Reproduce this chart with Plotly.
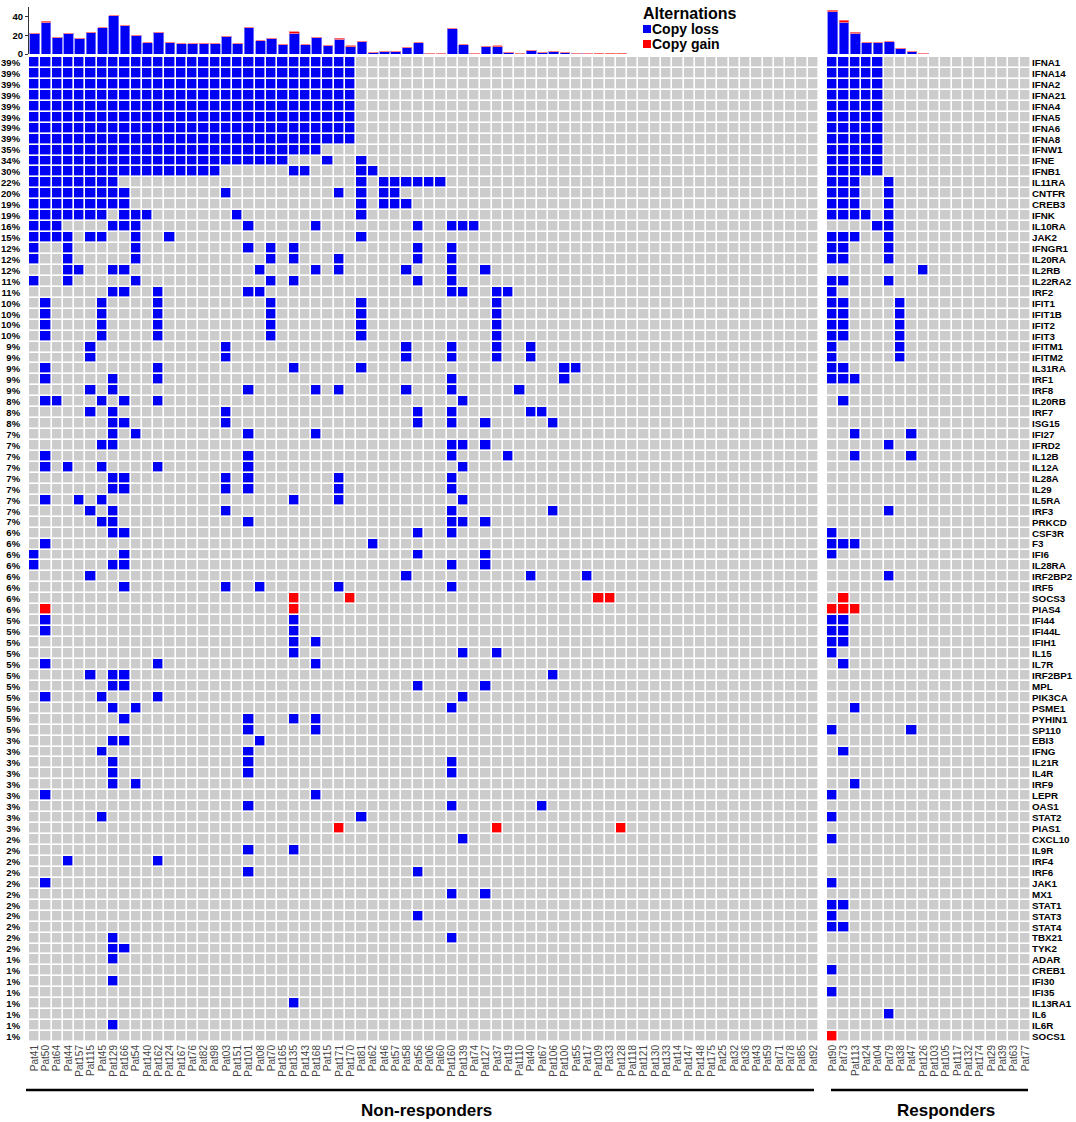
import plotly.graph_objects as go

genes = ["IFNA1", "IFNA14", "IFNA2", "IFNA21", "IFNA4", "IFNA5", "IFNA6", "IFNA8", "IFNW1", "IFNE",
         "IFNB1", "IL11RA", "CNTFR", "CREB3", "IFNK", "IL10RA", "JAK2", "IFNGR1", "IL20RA", "IL2RB",
         "IL22RA2", "IRF2", "IFIT1", "IFIT1B", "IFIT2", "IFIT3", "IFITM1", "IFITM2", "IL31RA", "IRF1",
         "IRF8", "IL20RB", "IRF7", "ISG15", "IFI27", "IFRD2", "IL12B", "IL12A", "IL28A", "IL29",
         "IL5RA", "IRF3", "PRKCD", "CSF3R", "F3", "IFI6", "IL28RA", "IRF2BP2", "IRF5", "SOCS3",
         "PIAS4", "IFI44", "IFI44L", "IFIH1", "IL15", "IL7R", "IRF2BP1", "MPL", "PIK3CA", "PSME1",
         "PYHIN1", "SP110", "EBI3", "IFNG", "IL21R", "IL4R", "IRF9", "LEPR", "OAS1", "STAT2",
         "PIAS1", "CXCL10", "IL9R", "IRF4", "IRF6", "JAK1", "MX1", "STAT1", "STAT3", "STAT4",
         "TBX21", "TYK2", "ADAR", "CREB1", "IFI30", "IFI35", "IL13RA1", "IL6", "IL6R", "SOCS1"]

pct_labels = ["39%"] * 8 + ["35%", "34%", "30%", "22%", "20%", "19%", "19%", "16%", "15%",
              "12%", "12%", "12%", "11%", "11%"] + ["10%"] * 4 + ["9%"] * 5 + ["8%"] * 3 + \
             ["7%"] * 9 + ["6%"] * 8 + ["5%"] * 11 + ["3%"] * 9 + ["2%"] * 11 + ["1%"] * 8

nr_patients = ["Pat41", "Pat50", "Pat64", "Pat44", "Pat157", "Pat115", "Pat45", "Pat129", "Pat166", "Pat54",
               "Pat140", "Pat162", "Pat124", "Pat167", "Pat76", "Pat82", "Pat98", "Pat03", "Pat151", "Pat101",
               "Pat08", "Pat70", "Pat165", "Pat135", "Pat143", "Pat168", "Pat15", "Pat171", "Pat170", "Pat81",
               "Pat62", "Pat46", "Pat57", "Pat58", "Pat56", "Pat06", "Pat60", "Pat160", "Pat139", "Pat74",
               "Pat127", "Pat37", "Pat19", "Pat110", "Pat40", "Pat67", "Pat106", "Pat100", "Pat55", "Pat17",
               "Pat109", "Pat33", "Pat128", "Pat118", "Pat121", "Pat130", "Pat133", "Pat14", "Pat147", "Pat148",
               "Pat175", "Pat25", "Pat32", "Pat36", "Pat43", "Pat59", "Pat71", "Pat78", "Pat85", "Pat92"]

r_patients = ["Pat90", "Pat73", "Pat113", "Pat24", "Pat04", "Pat79", "Pat38", "Pat47", "Pat126",
              "Pat103", "Pat105", "Pat117", "Pat132", "Pat174", "Pat29", "Pat39", "Pat63", "Pat77"]

# Alteration grid: L = copy loss, G = copy gain, . = none
# (one string per gene, groups of 10 patients separated by spaces; trailing empties omitted)
nr_rows = [
    "LLLLLLLLLL LLLLLLLLLL LLLLLLLLL",
    "LLLLLLLLLL LLLLLLLLLL LLLLLLLLL",
    "LLLLLLLLLL LLLLLLLLLL LLLLLLLLL",
    "LLLLLLLLLL LLLLLLLLLL LLLLLLLLL",
    "LLLLLLLLLL LLLLLLLLLL LLLLLLLLL",
    "LLLLLLLLLL LLLLLLLLLL LLLLLLLLL",
    "LLLLLLLLLL LLLLLLLLLL LLLLLLLLL",
    "LLLLLLLLLL LLLLLLLLLL LLLLLLLLL",
    "LLLLLLLLLL LLLLLLLLLL LLLLLL",
    "LLLLLLLLLL LLLLLLLLLL LLL...L..L",
    "LLLLLLLLLL LLLLLLL... ...LL....L L",
    "LLLLLLLL.. .......... .........L .LLLLLL",
    "LLLLLLLLL. .......L.. .......L.L .LL",
    "LLLLLLLLL. .......... .........L .LLL",
    "LLLLLLL.LL L.......L. .........L",
    "LLL....LLL .........L .....L.... ....L..LLL",
    "LLLL.LL..L ..L....... .........L",
    "L..L.....L .........L .L.L...... ....L..L",
    "L..L.....L .......... .L.L...L.. ....L..L",
    "...LL..LL. .......... L....L.L.. ...L...L.. L",
    "L..L.....L .......... .L.L...... ....L..L",
    ".......LL. .L.......L L......... .......LL. .LL",
    ".L....L... .L........ .L.......L .......... .L",
    ".L....L... .L........ .L.......L .......... .L",
    ".L....L... .L........ .L.......L .......... .L",
    ".L....L... .L........ .L.......L .......... .L",
    ".....L.... .......L.. .......... ...L...L.. .L..L",
    ".....L.... .......L.. .......... ...L...L.. .L..L",
    ".L........ .L........ ...L.....L .......... .......LL",
    ".L.....L.. .L........ .......... .......L.. .......L",
    ".....L.L.. .........L .....L.L.. ...L...L.. ...L",
    ".LL...L.L. .L........ .......... ........L",
    ".....L.L.. .......L.. .......... ....L..L.. ....LL",
    ".......LL. .......L.. .......... ....L..L.. L.....L",
    ".......L.L .........L .....L",
    "......LL.. .......... .......... .......LL. L",
    ".L........ .........L .......... .......L.. ..L",
    ".L.L..L... .L.......L .......... ........L",
    ".......LL. .......L.L .......L.. .......L",
    ".......LL. .......L.L .......L.. .......L",
    ".L..L.L... .......... ...L...L.. ........L",
    ".....L.L.. .......L.. .......... .......L.. ......L",
    "......LL.. .........L .......... .......LL. L",
    ".......LL. .......... .......... ....L..L",
    ".L........ .......... .......... L",
    "L.......L. .......... .......... ....L..... L",
    "L......LL. .......... .......... .......L.. L",
    ".....L.... .......... .......... ...L...... ....L....L",
    "........L. .......L.. L......L.. .......L",
    ".......... .......... ...G....G. .......... .......... GG",
    ".G........ .......... ...G",
    ".L........ .......... ...L",
    ".L........ .......... ...L",
    ".......... .......... ...L.L",
    ".......... .......... ...L...... ........L. .L",
    ".L........ .L........ .....L",
    ".....L.LL. .......... .......... .......... ......L",
    ".......LL. .......... .......... ....L..... L",
    ".L....L... .L........ .......... ........L",
    ".......L.L .......... .......... .......L",
    "........L. .........L ...L.L",
    ".......... .........L .....L",
    ".......LL. .......... L",
    "......L... .........L",
    ".......L.. .........L .......... .......L",
    ".......L.. .........L .......... .......L",
    ".......L.L",
    ".L........ .......... .....L",
    ".......... .........L .......... .......L.. .....L",
    "......L... .......... .........L",
    ".......... .......... .......G.. .......... .G........ ..G",
    ".......... .......... .......... ........L",
    ".......... .........L ...L",
    "...L...... .L",
    ".......... .........L .......... ....L",
    ".L",
    ".......... .......... .......... .......L.. L",
    "",
    ".......... .......... .......... ....L",
    "",
    ".......L.. .......... .......... .......L",
    ".......LL.",
    ".......L",
    "",
    ".......L",
    "",
    ".......... .......... ...L",
    "",
    ".......L",
    "",
]

r_rows = [
    "LLLLL", "LLLLL", "LLLLL", "LLLLL", "LLLLL", "LLLLL", "LLLLL", "LLLLL", "LLLLL", "LLLLL",
    "LLLLL", "LLL..L", "LLL..L", "LLL..L", "LLLL.L", "....LL", "LLL..L", "LL...L", "LL...L", "........L",
    "LL...L", "L", "LL....L", "LL....L", "LL....L", "LL....L", "L.....L", "L.....L", "LL", "LLL",
    "", ".L", "", "", "..L....L", ".....L", "..L....L", "", "", "",
    "", ".....L", "", "L", "LLL", "L", "", ".....L", "", ".G",
    "GGG", "LL", "LL", "LL", "L", ".L", "", "", "", "..L",
    "", "L......L", "", ".L", "", "", "..L", "L", "", "L",
    "", "L", "", "", "", "L", "", "LL", "L", "LL",
    "", "", "", "L", "", "L", "", ".....L", "", "G",
]

W, H = 1076, 1122
FONT = "Liberation Sans, Arial, sans-serif"
BLUE, RED, GRAY = "#0000F5", "#FF0000", "#CCCCCC"

code = {".": 0, "L": 1, "G": 2}


def to_matrix(rows, n):
    return [[code[c] for c in r.replace(" ", "").ljust(n, ".")] for r in rows]


z_nr = to_matrix(nr_rows, len(nr_patients))
z_r = to_matrix(r_rows, len(r_patients))


def counts(z, n, v):
    return [sum(1 for row in z if row[j] == v) for j in range(n)]


loss_nr, gain_nr = counts(z_nr, len(nr_patients), 1), counts(z_nr, len(nr_patients), 2)
loss_r, gain_r = counts(z_r, len(r_patients), 1), counts(z_r, len(r_patients), 2)

cs = [[0, GRAY], [0.25, GRAY], [0.25, BLUE], [0.75, BLUE], [0.75, RED], [1, RED]]

fig = go.Figure()
rows_idx = list(range(len(genes)))
fig.add_trace(go.Heatmap(z=z_nr, x=list(range(len(nr_patients))), y=rows_idx, colorscale=cs,
                         zmin=0, zmax=2, showscale=False, xgap=1.6, ygap=1.6,
                         xaxis="x", yaxis="y", hoverinfo="skip"))
fig.add_trace(go.Heatmap(z=z_r, x=list(range(len(r_patients))), y=rows_idx, colorscale=cs,
                         zmin=0, zmax=2, showscale=False, xgap=1.6, ygap=1.6,
                         xaxis="x2", yaxis="y2", hoverinfo="skip"))

bar_line = dict(color="#8080FF", width=0.8)
gain_line = dict(color="#FF8080", width=0.8)
fig.add_trace(go.Bar(x=list(range(len(nr_patients))), y=loss_nr, marker=dict(color=BLUE, line=bar_line),
                     width=0.86, xaxis="x3", yaxis="y3"))
fig.add_trace(go.Bar(x=list(range(len(nr_patients))), y=gain_nr, marker=dict(color=RED, line=gain_line),
                     width=0.86, xaxis="x3", yaxis="y3"))
fig.add_trace(go.Bar(x=list(range(len(r_patients))), y=loss_r, marker=dict(color=BLUE, line=bar_line),
                     width=0.86, xaxis="x4", yaxis="y4"))
fig.add_trace(go.Bar(x=list(range(len(r_patients))), y=gain_r, marker=dict(color=RED, line=gain_line),
                     width=0.86, xaxis="x4", yaxis="y4"))

nr_dom = [29 / W, 819 / W]
r_dom = [827 / W, 1031 / W]
grid_dom = [1 - 1042 / H, 1 - 57 / H]
bar_dom = [1 - 54 / H, 1 - 7.2 / H]

xtick = dict(size=10, color="#444444", family=FONT)
common = dict(showgrid=False, zeroline=False, automargin=False)

fig.update_layout(
    width=W, height=H, margin=dict(l=0, r=0, t=0, b=0, autoexpand=False),
    paper_bgcolor="white", plot_bgcolor="white", showlegend=False, barmode="stack",
    font=dict(family=FONT, color="black"),
    xaxis=dict(domain=nr_dom, range=[-0.5, len(nr_patients) - 0.5], tickmode="array",
               tickvals=list(range(len(nr_patients))), ticktext=nr_patients, tickangle=-90,
               tickfont=xtick, anchor="y", **common),
    yaxis=dict(domain=grid_dom, range=[len(genes) - 0.5, -0.5], tickmode="array",
               tickvals=rows_idx, ticktext=["<b>%s</b>" % p for p in pct_labels],
               tickfont=dict(size=9.5, family=FONT, color="black"), ticks="outside", ticklen=6,
               tickcolor="rgba(0,0,0,0)", anchor="x", **common),
    xaxis2=dict(domain=r_dom, range=[-0.5, len(r_patients) - 0.5], tickmode="array",
                tickvals=list(range(len(r_patients))), ticktext=r_patients, tickangle=-90,
                tickfont=xtick, anchor="y2", **common),
    yaxis2=dict(domain=grid_dom, range=[len(genes) - 0.5, -0.5], tickmode="array", side="right",
                tickvals=rows_idx, ticktext=["<b>%s</b>" % g for g in genes],
                tickfont=dict(size=9.8, family=FONT, color="black"), ticks="",
                anchor="x2", **common),
    xaxis3=dict(domain=nr_dom, range=[-0.5, len(nr_patients) - 0.5], showticklabels=False,
                anchor="y3", **common),
    yaxis3=dict(domain=bar_dom, range=[0, 50], tickmode="array", tickvals=[0, 20, 40],
                ticktext=["<b>0</b>", "<b>20</b>", "<b>40</b>"], tickfont=dict(size=9.5, family=FONT),
                showline=True, linecolor="#333", linewidth=1, ticks="outside", ticklen=3,
                tickcolor="#333", anchor="x3", **common),
    xaxis4=dict(domain=r_dom, range=[-0.5, len(r_patients) - 0.5], showticklabels=False,
                anchor="y4", **common),
    yaxis4=dict(domain=bar_dom, range=[0, 50], visible=False, anchor="x4", **common),
)


def py(v):
    return 1 - v / H


shapes = [
    dict(type="line", xref="paper", yref="paper", x0=26 / W, x1=814 / W, y0=py(1090), y1=py(1090),
         line=dict(color="black", width=2.5)),
    dict(type="line", xref="paper", yref="paper", x0=831 / W, x1=1028 / W, y0=py(1090), y1=py(1090),
         line=dict(color="black", width=2.5)),
    dict(type="rect", xref="paper", yref="paper", x0=643 / W, x1=651 / W, y0=py(33), y1=py(25),
         fillcolor=BLUE, line=dict(width=0)),
    dict(type="rect", xref="paper", yref="paper", x0=643 / W, x1=651 / W, y0=py(48), y1=py(40),
         fillcolor=RED, line=dict(width=0)),
]


def label(text, x, y, size, xanchor="center"):
    return dict(text=text, x=x / W, y=py(y), xref="paper", yref="paper", xanchor=xanchor,
                yanchor="middle", showarrow=False, font=dict(size=size, family=FONT, color="black"))


annotations = [
    label("<b>Non-responders</b>", 426, 1110, 17),
    label("<b>Responders</b>", 946, 1110, 17),
    label("<b>Alternations</b>", 641, 14, 16, "left"),
    label("<b>Copy loss</b>", 650, 29, 14, "left"),
    label("<b>Copy gain</b>", 650, 44, 14, "left"),
]
fig.update_layout(shapes=shapes, annotations=annotations)

fig.write_html("out.html", config={"displayModeBar": False},
               post_script="document.body.style.margin='0px';")
